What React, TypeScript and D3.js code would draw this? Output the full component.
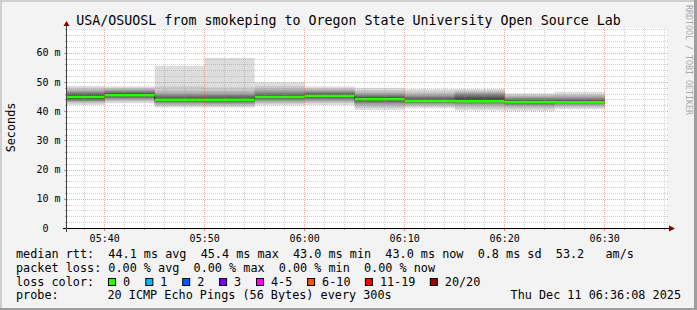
import React from "react";
import * as d3 from "d3";

// ---------- layout ----------
const W = 697;
const H = 310;
const PLOT_L = 67;
const PLOT_R = 667;
const PLOT_T = 28;
const PLOT_B = 228;
const MONO = "'DejaVu Sans Mono', 'Liberation Mono', monospace";

// ---------- data ----------
const chartTitle = "USA/OSUOSL from smokeping to Oregon State University Open Source Lab";
const yAxisLabel = "Seconds";
const watermark = "RRDTOOL / TOBI OETIKER";
const windowStart = "2025-12-11T05:36:14Z";
const windowEnd = "2025-12-11T06:36:14Z";
const yMax = 68.45; // ms
const yMajorTicks = [0, 10, 20, 30, 40, 50, 60];
const yMinorStepMs = 2;
const xMajorMinutes = 10;
const xMinorMinutes = 2;

// 5-minute steps (end time of each step)
const stepEnds = ["05:40", "05:45", "05:50", "05:55", "06:00", "06:05", "06:10", "06:15", "06:20", "06:25", "06:30"];
const stepMinutes = 5;
const medianRtt = [44.8, 45.4, 43.9, 43.9, 44.8, 45.2, 44.1, 43.5, 43.4, 43.1, 43.0];
// 20 sorted ping rtts (ms) per step
const pingRtt = [
  [42.1, 42.6, 43.0, 43.3, 43.5, 43.7, 43.9, 44.1, 44.3, 44.6, 45.0, 45.4, 45.7, 46.0, 46.3, 46.6, 47.0, 47.5, 48.0, 48.6],
  [42.7, 43.2, 43.6, 43.9, 44.2, 44.5, 44.7, 44.9, 45.1, 45.3, 45.5, 45.8, 46.1, 46.4, 46.7, 47.0, 47.3, 47.7, 48.0, 48.4],
  [41.2, 41.7, 42.1, 42.5, 42.8, 43.1, 43.3, 43.5, 43.7, 43.9, 44.1, 44.4, 44.7, 45.0, 45.4, 45.8, 46.3, 47.0, 48.4, 55.5],
  [41.2, 41.6, 42.0, 42.4, 42.7, 43.0, 43.3, 43.5, 43.7, 43.9, 44.1, 44.4, 44.7, 45.1, 45.5, 45.9, 46.4, 47.0, 48.2, 58.2],
  [41.9, 42.5, 42.9, 43.3, 43.6, 43.9, 44.1, 44.3, 44.5, 44.7, 44.9, 45.2, 45.5, 45.9, 46.3, 46.7, 47.2, 47.8, 48.6, 49.9],
  [42.1, 42.7, 43.1, 43.5, 43.8, 44.1, 44.4, 44.6, 44.8, 45.0, 45.3, 45.6, 45.9, 46.2, 46.5, 46.8, 47.1, 47.5, 47.9, 48.4],
  [40.4, 41.1, 41.7, 42.2, 42.6, 42.9, 43.2, 43.5, 43.7, 43.9, 44.2, 44.5, 44.8, 45.1, 45.4, 45.8, 46.2, 46.7, 47.3, 48.0],
  [41.0, 41.5, 41.9, 42.3, 42.6, 42.8, 43.0, 43.2, 43.4, 43.6, 43.8, 44.0, 44.3, 44.6, 44.9, 45.3, 45.7, 46.2, 46.9, 47.6],
  [40.2, 40.9, 41.5, 42.0, 42.4, 42.7, 43.0, 43.2, 43.4, 43.6, 43.9, 44.3, 44.8, 45.3, 45.7, 46.0, 46.3, 46.7, 47.1, 47.6],
  [40.0, 40.7, 41.2, 41.7, 42.0, 42.3, 42.6, 42.8, 43.0, 43.2, 43.4, 43.6, 43.8, 44.0, 44.3, 44.6, 44.9, 45.3, 45.7, 46.1],
  [40.6, 41.2, 41.6, 42.0, 42.3, 42.5, 42.7, 42.9, 43.0, 43.1, 43.3, 43.5, 43.7, 44.0, 44.3, 44.6, 45.0, 45.4, 45.9, 46.6],
];
const stepLoss = [0, 0, 0, 0, 0, 0, 0, 0, 0, 0, 0];

const lossLabels = ["0", "1", "2", "3", "4-5", "6-10", "11-19", "20/20"];
const lossColors = ["#26ff00", "#00b8ff", "#0059ff", "#7e00ff", "#ff00ff", "#ff5500", "#ff0000", "#a00000"];
const lossBoxX = [108.5, 145.8, 182.7, 219.6, 256.5, 307.6, 365.4, 430.3];

const rttStatNames = ["avg", "max", "min", "now", "sd"];
const rttStatValues = [44.1, 45.4, 43.0, 43.0, 0.8];
const amPerSec = 53.2;
const lossStatNames = ["avg", "max", "min", "now"];
const lossStatValues = [0, 0, 0, 0];
const probeText = "20 ICMP Echo Pings (56 Bytes) every 300s";
const stampText = "Thu Dec 11 06:36:08 2025";

// ---------- helpers ----------
const parseDay = (hm: string) => new Date(`2025-12-11T${hm}:00Z`);

export default function App() {
  const t0 = new Date(windowStart);
  const t1 = new Date(windowEnd);
  const x = d3.scaleUtc().domain([t0, t1]).range([PLOT_L, PLOT_R]);
  const y = d3.scaleLinear().domain([0, yMax]).range([PLOT_B, PLOT_T]);
  const fmt = d3.utcFormat("%H:%M");

  // step data: each step value covers (end-5min, end]
  const steps = stepEnds.map((e, i) => {
    const end = parseDay(e);
    return {
      start: d3.utcMinute.offset(end, -stepMinutes),
      end,
      pings: pingRtt[i],
      median: medianRtt[i],
      loss: stepLoss[i],
    };
  });
  const lastEnd = steps[steps.length - 1].end;
  type P = { t: Date; lo: number; hi: number; m: number };
  const layerData = (k: number): P[] => {
    const pts: P[] = steps.map((s) => ({ t: s.start, lo: s.pings[k], hi: s.pings[19 - k], m: s.median }));
    const l = steps[steps.length - 1];
    pts.push({ t: lastEnd, lo: l.pings[k], hi: l.pings[19 - k], m: l.median });
    return pts;
  };

  const area = d3
    .area<P>()
    .x((d) => x(d.t))
    .y0((d) => y(d.lo))
    .y1((d) => y(d.hi))
    .curve(d3.curveStepAfter);

  const half = 10;
  const layers = d3.range(1, half + 1).map((ibot) => {
    const c = Math.floor((190 / half) * (half - ibot)) + 50;
    return { d: area(layerData(ibot - 1)) || "", color: d3.rgb(c, c, c).formatHex() };
  });

  const medPts = layerData(0);
  const medBand = d3
    .area<P>()
    .x((d) => x(d.t))
    .y0((d) => y(d.m) + 1.25)
    .y1((d) => y(d.m) - 1.25)
    .curve(d3.curveStepAfter)(medPts) || "";
  const medLine = d3
    .line<P>()
    .x((d) => x(d.t))
    .y((d) => y(d.m))
    .curve(d3.curveStepAfter)(medPts) || "";

  // grid
  const yMinor = d3.range(yMinorStepMs, yMax, yMinorStepMs).filter((v) => v % 10 !== 0);
  const yMajor = yMajorTicks.filter((v) => v > 0);
  const xMinor = d3.utcMinute
    .every(xMinorMinutes)!
    .range(t0, t1)
    .filter((d) => d.getUTCMinutes() % xMajorMinutes !== 0);
  const xMajor = d3.utcMinute.every(xMajorMinutes)!.range(t0, t1);
  const py = (v: number) => Math.round(y(v)) + 0.5;
  const px = (d: Date) => Math.floor(x(d)) + 0.5;

  const minorColor = "rgba(150,150,150,0.45)";
  const majorColor = "rgba(240,60,60,0.45)";

  const f1 = (v: number) => v.toFixed(1);
  const f2 = (v: number) => v.toFixed(2);
  const line1 =
    "median rtt:  " +
    rttStatValues.map((v, i) => `${f1(v)} ms ${rttStatNames[i]}`).join("  ") +
    `  ${f1(amPerSec)}   am/s`;
  const line2 = "packet loss: " + lossStatValues.map((v, i) => `${f2(v)} % ${lossStatNames[i]}`).join("  ");

  const legendFont = 11.8;
  const textStyle: React.CSSProperties = { whiteSpace: "pre" };

  return (
    <svg
      width={W}
      height={H}
      viewBox={`0 0 ${W} ${H}`}
      style={{ position: "absolute", left: 0, top: 0, display: "block" }}
      fontFamily={MONO}
    >
      <defs>
        <clipPath id="plotClip">
          <rect x={PLOT_L} y={PLOT_T} width={PLOT_R - PLOT_L} height={PLOT_B - PLOT_T} />
        </clipPath>
      </defs>
      {/* background + shading */}
      <rect x={0} y={0} width={W} height={H} fill="#f3f3f3" />
      <rect x={0} y={0} width={W} height={2} fill="#cfcfcf" />
      <rect x={0} y={0} width={2} height={H} fill="#cfcfcf" />
      <rect x={0} y={H - 2} width={W} height={2} fill="#9e9e9e" />
      <rect x={W - 3} y={0} width={3} height={H} fill="#9e9e9e" />
      {/* canvas */}
      <rect x={PLOT_L} y={PLOT_T} width={PLOT_R - PLOT_L} height={PLOT_B - PLOT_T} fill="#ffffff" />

      {/* smoke */}
      <g clipPath="url(#plotClip)">
        {layers.map((l, i) => (
          <path key={i} d={l.d} fill={l.color} stroke="none" />
        ))}
        <path d={medLine} fill="none" stroke="#202020" strokeWidth={1} />
        <path d={medBand} fill={lossColors[0]} stroke="none" />
      </g>

      {/* grid (on top, like rrdtool) */}
      <g strokeWidth={1} shapeRendering="crispEdges">
        {yMinor.map((v) => (
          <g key={"ym" + v}>
            <line x1={PLOT_L} x2={PLOT_R + 2} y1={py(v)} y2={py(v)} stroke={minorColor} strokeDasharray="1,1" />
            <line x1={PLOT_L - 2} x2={PLOT_L} y1={py(v)} y2={py(v)} stroke="#a0a0a0" />
          </g>
        ))}
        {xMinor.map((d) => (
          <g key={"xm" + d.getTime()}>
            <line x1={px(d)} x2={px(d)} y1={PLOT_T} y2={PLOT_B} stroke={minorColor} strokeDasharray="1,1" />
            <line x1={px(d)} x2={px(d)} y1={PLOT_B} y2={PLOT_B + 2} stroke="#a0a0a0" />
          </g>
        ))}
        {yMajor.map((v) => (
          <g key={"yM" + v}>
            <line x1={PLOT_L} x2={PLOT_R + 2} y1={py(v)} y2={py(v)} stroke={majorColor} strokeDasharray="1,1" />
            <line x1={PLOT_L - 3} x2={PLOT_L} y1={py(v)} y2={py(v)} stroke="#e08080" />
          </g>
        ))}
        {xMajor.map((d) => (
          <g key={"xM" + d.getTime()}>
            <line x1={px(d)} x2={px(d)} y1={PLOT_T} y2={PLOT_B} stroke={majorColor} strokeDasharray="1,1" />
            <line x1={px(d)} x2={px(d)} y1={PLOT_B} y2={PLOT_B + 3} stroke="#e08080" />
          </g>
        ))}
        {/* axes */}
        <line x1={PLOT_L - 4} x2={PLOT_R + 4} y1={PLOT_B + 0.5} y2={PLOT_B + 0.5} stroke="#000" />
        <line x1={PLOT_L - 0.5} x2={PLOT_L - 0.5} y1={PLOT_B + 4} y2={PLOT_T - 3} stroke="#404040" />
      </g>
      {/* arrows */}
      <path
        d={`M${PLOT_L - 0.5},${PLOT_T - 7} L${PLOT_L - 3.5},${PLOT_T - 2} L${PLOT_L + 2.5},${PLOT_T - 2} Z`}
        fill="#7f0000"
      />
      <path
        d={`M${PLOT_R + 8},${PLOT_B + 0.5} L${PLOT_R + 2},${PLOT_B - 2.5} L${PLOT_R + 2},${PLOT_B + 3.5} Z`}
        fill="#7f0000"
      />

      {/* y tick labels */}
      <g fontSize={10} fill="#000" textAnchor="end">
        {yMajorTicks.map((v) => (
          <text key={"yl" + v} x={v === 0 ? 48.5 : 60.5} y={y(v) + 3.6}>
            {v === 0 ? "0" : `${v} m`}
          </text>
        ))}
      </g>
      {/* x tick labels */}
      <g fontSize={10} fill="#000" textAnchor="middle">
        {xMajor.map((d) => (
          <text key={"xl" + d.getTime()} x={x(d)} y={241.5}>
            {fmt(d)}
          </text>
        ))}
      </g>

      {/* title */}
      <text x={348.5} y={24.5} fontSize={13.3} textAnchor="middle" fill="#000">
        {chartTitle}
      </text>
      {/* y axis label */}
      <text
        transform={`translate(14.5,127.5) rotate(-90)`}
        fontSize={11.8}
        textAnchor="middle"
        fill="#000"
      >
        {yAxisLabel}
      </text>
      {/* watermark */}
      <text transform={`translate(686,60) rotate(90)`} fontSize={8.3} textAnchor="middle" fill="#aaaaaa">
        {watermark}
      </text>

      {/* legend */}
      <g fontSize={legendFont} fill="#000">
        <text x={16} y={258} xmlSpace="preserve" style={textStyle}>
          {line1}
        </text>
        <text x={16} y={271.8} xmlSpace="preserve" style={textStyle}>
          {line2}
        </text>
        <text x={16} y={285.6} xmlSpace="preserve" style={textStyle}>
          {"loss color:"}
        </text>
        {lossLabels.map((lab, i) => (
          <g key={"lc" + i}>
            <rect x={lossBoxX[i]} y={278.5} width={7} height={7} fill={lossColors[i]} stroke="#000" strokeWidth={1} />
            <text x={lossBoxX[i] + 14.5} y={285.6}>
              {lab}
            </text>
          </g>
        ))}
        <text x={16} y={299.4} xmlSpace="preserve" style={textStyle}>
          {"probe:"}
        </text>
        <text x={107.5} y={299.4} xmlSpace="preserve" style={textStyle}>
          {probeText}
        </text>
        <text x={681} y={299.4} textAnchor="end" xmlSpace="preserve" style={textStyle}>
          {stampText}
        </text>
      </g>
    </svg>
  );
}
